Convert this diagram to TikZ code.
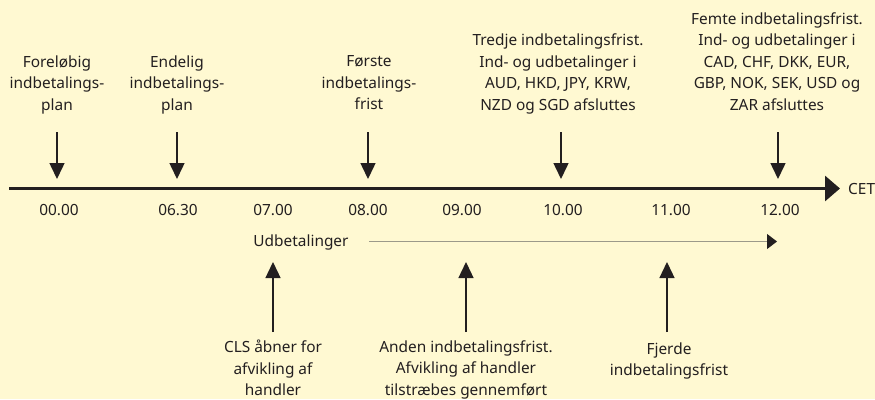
\documentclass[tikz,border=0pt]{standalone}
\usepackage{fontspec}
\setmainfont{Noto Sans}
\usetikzlibrary{arrows.meta}
\definecolor{paper}{HTML}{FFF9D2}
\definecolor{ink}{HTML}{231F20}
\definecolor{flow}{HTML}{9C9A8A}
\begin{document}
\begin{tikzpicture}[x=1pt,y=-1pt,
  txt/.style={text=ink, font=\fontsize{15.4}{21.5}\selectfont, align=center, inner sep=0pt},
  toplbl/.style={txt, anchor=north},
  ticklbl/.style={txt, anchor=base},
  axisline/.style={draw=ink, line width=3pt, -{Triangle[length=15pt,width=25pt]}},
  dnarrow/.style={draw=ink, line width=1.5pt, -{Triangle[length=16pt,width=15pt]}},
  uparrow/.style={draw=ink, line width=1.3pt, -{Triangle[length=16pt,width=15pt]}},
  flowline/.style={draw=flow, line width=1pt, -{Triangle[length=10pt,width=15pt,color=ink]}}]
  % background and page size
  \fill[paper] (0,0) rectangle (875,399);
  \useasboundingbox (0,0) rectangle (875,399);

  % time axis
  \coordinate (axL) at (9,188.5);
  \coordinate (axR) at (840,188.5);
  \draw[axisline] (axL) -- (axR);
  \node[txt, anchor=base west] (cet) at (848,194) {CET};

  % times
  \node[ticklbl] (t0) at (59,215) {00.00};
  \node[ticklbl] (t1) at (178,215) {06.30};
  \node[ticklbl] (t2) at (273,215) {07.00};
  \node[ticklbl] (t3) at (368,215) {08.00};
  \node[ticklbl] (t4) at (462,215) {09.00};
  \node[ticklbl] (t5) at (563,215) {10.00};
  \node[ticklbl] (t6) at (671,215) {11.00};
  \node[ticklbl] (t7) at (780,215) {12.00};

  % events above the axis
  \node[toplbl] (e0) at (57,55.5) {Foreløbig\\indbetalings-\\plan};
  \node[toplbl] (e1) at (177,55.5) {Endelig\\indbetalings-\\plan};
  \node[toplbl] (e2) at (369,55.5) {Første\\indbetalings-\\frist};
  \node[toplbl] (e3) at (558,34) {Tredje indbetalingsfrist.\\Ind- og udbetalinger i\\AUD, HKD, JPY, KRW,\\NZD og SGD afsluttes};
  \node[toplbl] (e4) at (777,12.5) {Femte indbetalingsfrist.\\Ind- og udbetalinger i\\CAD, CHF, DKK, EUR,\\GBP, NOK, SEK, USD og\\ZAR afsluttes};

  \foreach \i/\x in {0/57,1/177,2/368,3/561,4/778}{
    \coordinate (d\i s) at (\x,132);
    \coordinate (d\i e) at (\x,179);
    \draw[dnarrow] (d\i s) -- (d\i e);
  }

  % payouts
  \node[ticklbl] (ud) at (301,246) {Udbetalinger};
  \coordinate (udS) at (369,241.5);
  \coordinate (udE) at (777,241.5);
  \draw[flowline] (udS) -- (udE);

  % events below the axis
  \node[toplbl] (b0) at (273,340) {CLS åbner for\\afvikling af\\handler};
  \node[toplbl] (b1) at (466,340.5) {Anden indbetalingsfrist.\\Afvikling af handler\\tilstræbes gennemført};
  \node[toplbl] (b2) at (669,342.5) {Fjerde\\indbetalingsfrist};

  \foreach \i/\x in {0/273,1/466,2/667}{
    \coordinate (u\i s) at (\x,332);
    \coordinate (u\i e) at (\x,262);
    \draw[uparrow] (u\i s) -- (u\i e);
  }
\end{tikzpicture}
\end{document}
